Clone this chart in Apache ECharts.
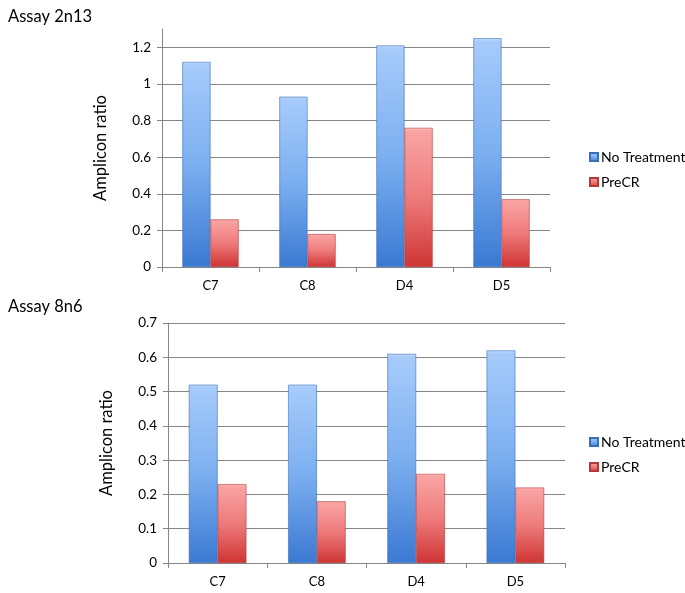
<!DOCTYPE html>
<html>
<head>
<meta charset="utf-8">
<script src="https://cdn.jsdelivr.net/npm/echarts@6/dist/echarts.min.js"></script>
<style>html,body{margin:0;padding:0;background:#fff}#c{width:685px;height:593px}</style>
</head>
<body>
<div id="c"></div>
<script>
var categories = ['C7', 'C8', 'D4', 'D5'];
var seriesNames = ['No Treatment', 'PreCR'];
var noTreatment2n13 = [1.12, 0.93, 1.21, 1.25];
var preCR2n13 = [0.26, 0.18, 0.76, 0.37];
var noTreatment8n6 = [0.52, 0.52, 0.61, 0.62];
var preCR8n6 = [0.23, 0.18, 0.26, 0.22];
var yTicks2n13 = [0, 0.2, 0.4, 0.6, 0.8, 1, 1.2];
var yTicks8n6 = [0, 0.1, 0.2, 0.3, 0.4, 0.5, 0.6, 0.7];
var titles = ['Assay 2n13', 'Assay 8n6'];
var yName = 'Amplicon ratio';

var FONT = 'Lato, "Open Sans", sans-serif';
var blueGrad = new echarts.graphic.LinearGradient(0, 0, 0, 1, [
  {offset: 0, color: '#c0dcff'}, {offset: 0.015, color: '#a6cbfb'}, {offset: 0.5, color: '#7caff0'}, {offset: 1, color: '#3a79d2'}
]);
var redGrad = new echarts.graphic.LinearGradient(0, 0, 0, 1, [
  {offset: 0, color: '#ffc8c8'}, {offset: 0.02, color: '#faa4a4'}, {offset: 0.5, color: '#ee7b7b'}, {offset: 1, color: '#cf3434'}
]);
var gridColor = '#868686';

function yAxis(gridIndex, max, interval, ticks) {
  return {
    type: 'value', gridIndex: gridIndex, min: 0, max: max, interval: interval,
    name: yName, nameLocation: 'middle', nameGap: 53,
    nameTextStyle: {fontFamily: FONT, fontSize: 16.5, color: '#000'},
    axisLine: {show: true, lineStyle: {color: gridColor, width: 1}},
    axisTick: {show: true, length: 5, lineStyle: {color: gridColor}, customValues: ticks},
    axisLabel: {fontFamily: FONT, fontSize: 13.5, color: '#000', margin: 11, customValues: ticks},
    splitLine: {show: true, lineStyle: {color: gridColor, width: 1}}
  };
}
function xAxis(gridIndex) {
  return {
    type: 'category', gridIndex: gridIndex, data: categories,
    axisLine: {lineStyle: {color: gridColor}},
    axisTick: {show: true, length: 5, lineStyle: {color: gridColor}},
    axisLabel: {fontFamily: FONT, fontSize: 13, color: '#000', margin: 12}
  };
}
function bar(name, data, idx, grad, border) {
  return {
    name: name, type: 'bar', xAxisIndex: idx, yAxisIndex: idx, data: data,
    barGap: '0%', barCategoryGap: '42%',
    itemStyle: {color: grad, borderColor: border, borderWidth: 0.6},
    emphasis: {disabled: true}
  };
}
function legend(top) {
  return {
    data: seriesNames, orient: 'vertical', left: 584, top: top, itemGap: 11,
    icon: 'rect', itemWidth: 8, itemHeight: 8,
    textStyle: {fontFamily: FONT, fontSize: 14, color: '#000', padding: [0, 0, 0, -2]}
  };
}

var chart = echarts.init(document.getElementById('c'));
chart.setOption({
  animation: false,
  title: [
    {text: titles[0], left: 3, top: 3, textStyle: {fontFamily: FONT, fontSize: 16.5, fontWeight: 'normal', color: '#000'}},
    {text: titles[1], left: 3, top: 293, textStyle: {fontFamily: FONT, fontSize: 16.5, fontWeight: 'normal', color: '#000'}}
  ],
  grid: [
    {left: 162, right: 135, top: 29, bottom: 326},
    {left: 168, right: 120, top: 323, bottom: 30}
  ],
  xAxis: [xAxis(0), xAxis(1)],
  yAxis: [yAxis(0, 1.3, 0.2, yTicks2n13), yAxis(1, 0.7, 0.1, yTicks8n6)],
  legend: [legend(145), legend(430)],
  series: [
    bar(seriesNames[0], noTreatment2n13, 0, blueGrad, '#3a6fb5'),
    bar(seriesNames[1], preCR2n13, 0, redGrad, '#b33a3a'),
    bar(seriesNames[0], noTreatment8n6, 1, blueGrad, '#3a6fb5'),
    bar(seriesNames[1], preCR8n6, 1, redGrad, '#b33a3a')
  ]
});
</script>
</body>
</html>
